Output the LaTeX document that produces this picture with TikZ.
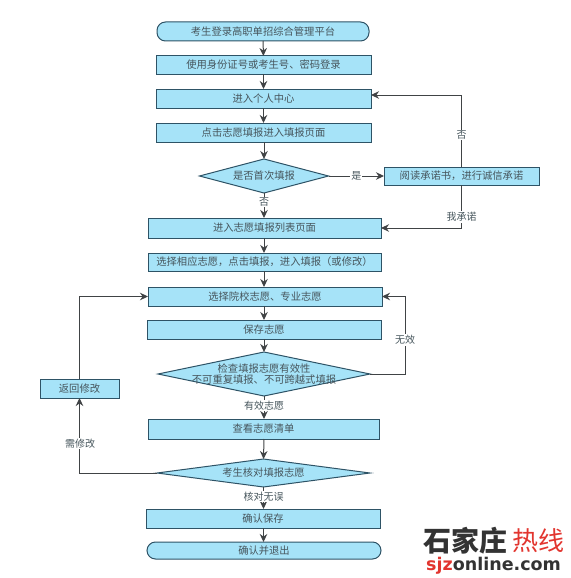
\documentclass[tikz,border=0pt]{standalone}
\usepackage{fontspec}
\setmainfont{Noto Sans CJK SC}
\newfontfamily\logosans{DejaVu Sans}
\usetikzlibrary{shapes.geometric,arrows.meta}
\definecolor{boxfill}{HTML}{A6E3F8}
\definecolor{boxline}{HTML}{2E5366}
\definecolor{txt}{HTML}{46555C}
\definecolor{edgeline}{HTML}{404345}
\definecolor{logored}{HTML}{E2352F}
\definecolor{logoblack}{HTML}{333333}
\tikzset{
  x=1pt,y=-1pt,
  basebox/.style={draw=boxline,fill=boxfill,line width=1pt,inner sep=0pt,outer sep=0pt,text=txt,font=\fontsize{10.3}{11}\selectfont},
  stepbox/.style 2 args={basebox,rectangle,minimum width=#1pt,minimum height=#2pt},
  termbox/.style 2 args={basebox,rectangle,rounded corners=8.5pt,minimum width=#1pt,minimum height=#2pt},
  decide/.style 2 args={basebox,diamond,minimum width=#1pt,minimum height=#2pt},
  inside/.style={label={[text=txt,font=\fontsize{10.3}{11.5}\selectfont,align=center]center:#1}},
  flow/.style={draw=edgeline,line width=1pt,-{Stealth[length=8pt,width=7.5pt]}},
  edgetext/.style={fill=white,inner sep=1pt,text=txt,font=\fontsize{10}{11}\selectfont},
}
\begin{document}
\begin{tikzpicture}
\useasboundingbox (0,0) rectangle (570,578);
\node[termbox={212}{19}] (start) at (263,31.5) {考生登录高职单招综合管理平台};
\node[stepbox={215}{18}] (login) at (263.5,65) {使用身份证号或考生号、密码登录};
\node[stepbox={215}{19}] (center) at (263.5,98.5) {进入个人中心};
\node[stepbox={215}{19}] (fill) at (263.5,132.5) {点击志愿填报进入填报页面};
\node[decide={129}{34},inside={是否首次填报}] (first) at (264,176) {};
\node[stepbox={155}{18}] (promise) at (461.5,176) {阅读承诺书，进行诚信承诺};
\node[stepbox={233}{20}] (list) at (264.5,228) {进入志愿填报列表页面};
\node[stepbox={233}{18}] (pick) at (264.5,262) {选择相应志愿，点击填报，进入填报（或修改）};
\node[stepbox={234}{19}] (choose) at (265,296.5) {选择院校志愿、专业志愿};
\node[stepbox={234}{19}] (save) at (264,329.5) {保存志愿};
\node[decide={212}{44},inside={检查填报志愿有效性\\[-1pt]不可重复填报、不可跨越式填报}] (check) at (264,374) {};
\node[stepbox={231}{20}] (view) at (263.5,429) {查看志愿清单};
\node[stepbox={79}{19}] (back) at (79.5,388.5) {返回修改};
\node[decide={213}{28},inside={考生核对填报志愿}] (verify) at (263.5,473) {};
\node[stepbox={234}{19}] (confirm) at (263,518.5) {确认保存};
\node[termbox={234}{17}] (exit) at (264,550.5) {确认并退出};

\draw[flow] (start) -- (login);
\draw[flow] (login) -- (center);
\draw[flow] (center) -- (fill);
\draw[flow] (fill.south -| first.north) -- (first.north);
\draw[flow] (first.east) -- node[edgetext] {是} (promise.west);
\draw[flow] (first.south) -- node[edgetext,pos=.36] {否} (list.north -| first.south);
\draw[flow] (promise.north) -- ++(0,-72) -- ([yshift=3.5pt]center.east);
\node[edgetext] (nolabel) at (461.5,135) {否};
\draw[flow] (promise.south) |- (list.east);
\node[edgetext] (wolabel) at (461.5,217) {我承诺};
\draw[flow] (list.south -| first.south) -- (pick.north -| first.south);
\draw[flow] (pick.south -| first.south) -- (choose.north -| first.south);
\draw[flow] (choose.south -| first.south) -- (save.north -| first.south);
\draw[flow] (save.south -| first.south) -- (check.north);
\draw[flow] (check.south) -- node[edgetext,pos=.42] {有效志愿} (view.north -| check.south);
\draw[flow] (view.south -| check.south) -- (verify.north);
\draw[flow] (verify.south) -- node[edgetext,pos=.42] {核对无误} (confirm.north -| verify.south);
\draw[flow] (confirm.south -| verify.south) -- (exit.north -| verify.south);
\coordinate (rightbend) at (405,374);
\draw[flow] (check.east) -- (rightbend) |- (choose.east);
\node[edgetext] (wxlabel) at (405,340) {无效};
\draw[flow] (verify.west) -| (back.south);
\node[edgetext] (xglabel) at (80,443.5) {需修改};
\draw[flow] (back.north) |- (choose.west);

\node[inner sep=0pt,text=logoblack,font=\fontsize{28}{30}\bfseries\selectfont,anchor=west] (logoa) at (423,541) {石家庄};
\node[inner sep=0pt,text=logored,font=\fontsize{26}{28}\selectfont,anchor=west] (logob) at (512,541) {热线};
\node[inner sep=0pt,font=\logosans\fontsize{17.5}{19}\bfseries\selectfont,anchor=west] (logoc) at (426,566) {\textcolor{logored}{sjz}\textcolor{logoblack}{online.com}};
\end{tikzpicture}
\end{document}
